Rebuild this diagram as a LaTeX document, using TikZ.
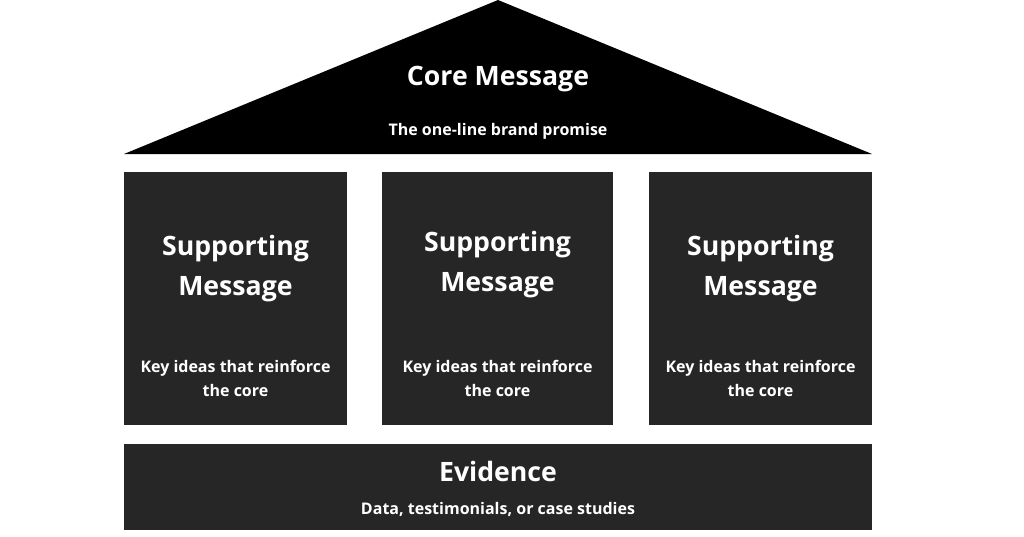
\documentclass[tikz,border=0pt]{standalone}
\usepackage{fontspec}
\setmainfont{Open Sans}
\definecolor{pil}{HTML}{262626}
\begin{document}
\begin{tikzpicture}[x=0.75pt,y=-0.75pt,
 big/.style={text=white,font=\bfseries\fontsize{20}{30}\selectfont,align=center},
 small/.style={text=white,font=\bfseries\fontsize{12}{18}\selectfont,align=center},
 box/.style={fill=pil,draw=none}]
\useasboundingbox[fill=white] (0,0) rectangle (1024,536);
\fill[black] (498,0) -- (872,154) -- (124,154) -- cycle;
\node[big] (core) at (498,79) {Core Message};
\node[small] (coresub) at (498,131) {The one-line brand promise};
\foreach \n/\a/\b/\y in {p1/124/347/269, p2/382/613/265, p3/649/872/269}{
 \path[box] (\a,172) rectangle (\b,425);
 \node[big] (\n t) at ({(\a+\b)/2},\y) {Supporting\\Message};
 \node[small] (\n s) at ({(\a+\b)/2},378) {Key ideas that reinforce\\the core};
}
\path[box] (124,444) rectangle (872,530);
\node[big] (ev) at (498,471) {Evidence};
\node[small] (evs) at (498,509) {Data, testimonials, or case studies};
\end{tikzpicture}
\end{document}
